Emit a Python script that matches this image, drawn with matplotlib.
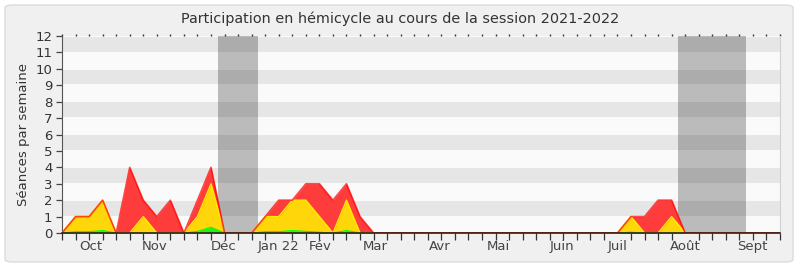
import matplotlib
matplotlib.use("Agg")
import matplotlib.pyplot as plt
import numpy as np
from matplotlib.patches import FancyBboxPatch

# ---- data (weekly values, week 0 = start of session) ----
weeks = list(range(54))
presence = [0, 1, 1, 2, 0, 4, 2, 1, 2, 0, 2, 4, 0, 0, 0, 1, 2, 2, 3, 3, 2, 3, 1, 0,
            0, 0, 0, 0, 0, 0, 0, 0, 0, 0, 0, 0, 0, 0, 0, 0, 0, 0, 1, 1, 2, 2, 0,
            0, 0, 0, 0, 0, 0, 0]
interventions = [0, 1, 1, 2, 0, 0, 1, 0, 0, 0, 1, 3, 0, 0, 0, 1, 1, 2, 2, 1, 0, 2, 0, 0,
                 0, 0, 0, 0, 0, 0, 0, 0, 0, 0, 0, 0, 0, 0, 0, 0, 0, 0, 1, 0, 0, 1, 0,
                 0, 0, 0, 0, 0, 0, 0]
questions = [0, 0.08, 0.08, 0.15, 0, 0, 0, 0, 0, 0, 0.1, 0.35, 0, 0, 0, 0.08, 0.08, 0.15, 0.1, 0.05, 0, 0.15, 0, 0,
             0, 0, 0, 0, 0, 0, 0, 0, 0, 0, 0, 0, 0, 0, 0, 0, 0, 0, 0.05, 0, 0, 0, 0,
             0, 0, 0, 0, 0, 0, 0]
vacations = [(11.5, 14.5), (45.5, 50.5)]
month_labels = ["Oct", "Nov", "Déc", "Jan 22", "Fév", "Mar", "Avr", "Mai", "Juin", "Juil", "Août", "Sept"]
month_weeks = [2.14, 6.86, 11.9, 16.0, 19.08, 23.1, 27.9, 32.2, 36.9, 41.0, 46.0, 50.96]
title = "Participation en hémicycle au cours de la session 2021-2022"
ylabel = "Séances par semaine"

W, H = 800, 267
fig = plt.figure(figsize=(W / 100, H / 100), dpi=100, facecolor="white")
bg = FancyBboxPatch((5 / W, 5 / H), 788 / W, 257 / H,
                    boxstyle="round,pad=0,rounding_size=0.01",
                    transform=fig.transFigure, facecolor="#f0f0f0",
                    edgecolor="#dcdcdc", linewidth=1, zorder=-10)
fig.patches.append(bg)

ax = fig.add_axes([62 / W, (H - 233) / H, (780 - 62) / W, (233 - 36) / H])
ax.set_zorder(1)
ax.set_facecolor("#fafafa")
ax.set_xlim(0, 53)
ax.set_ylim(0, 12)

for k in range(1, 12, 2):
    ax.axhspan(k + 0.05, k + 1 - 0.05 if k + 1 < 12 else 11.92, color="#e6e6e6", lw=0, zorder=0)

for a, b in vacations:
    ax.axvspan(a, b, color="black", alpha=0.25, lw=0, zorder=1)

x = np.array(weeks)
ax.fill_between(x, presence, color="#ff3c3c", lw=0, zorder=2)
ax.fill_between(x, interventions, color="#ffd60a", lw=0, zorder=3)
ax.plot(x, interventions, color="#ffee00", lw=1, zorder=4)
ax.fill_between(x, questions, color="#22ee22", lw=0, zorder=5)
ax.plot(x, questions, color="#00ff00", lw=0.8, zorder=5)
ax.plot(x, presence, color="#ff0000", lw=1.2, alpha=0.7, zorder=6)

ax.set_yticks(range(0, 13))
ax.set_yticklabels([str(v) for v in range(0, 13)])
ax.set_xticks(month_weeks)
ax.set_xticklabels(month_labels)
ax.set_xticks(weeks, minor=True)
ax.tick_params(axis="x", which="major", length=0, pad=5, labelsize=9.5, colors="#444444")
ax.tick_params(axis="x", which="minor", length=5, width=0.9, color="#333333", top=False, bottom=True)
ax.tick_params(axis="y", length=4, width=0.9, color="#444444", labelsize=9.5, labelcolor="#333333", pad=3)

# tiny dotted ticks along the top edge
sec = ax.secondary_xaxis("top")
sec.set_xticks(weeks)
sec.set_xticklabels([])
sec.tick_params(length=1.5, width=1, color="#333333")
sec.spines["top"].set_visible(False)

ax.spines["top"].set_visible(False)
ax.spines["right"].set_color("#d0d0d0")
ax.spines["left"].set_color("#555555")
ax.spines["bottom"].set_color("#3a1a1a")
ax.spines["bottom"].set_linewidth(1.2)
ax.spines["bottom"].set_zorder(7)

ax.set_ylabel(ylabel, fontsize=9.5, color="#333333", labelpad=4)
fig.text(0.5, 1 - 19 / H, title, ha="center", va="center", fontsize=10.4, color="#333333")

fig.savefig("out.png", dpi=100, facecolor=fig.get_facecolor())
